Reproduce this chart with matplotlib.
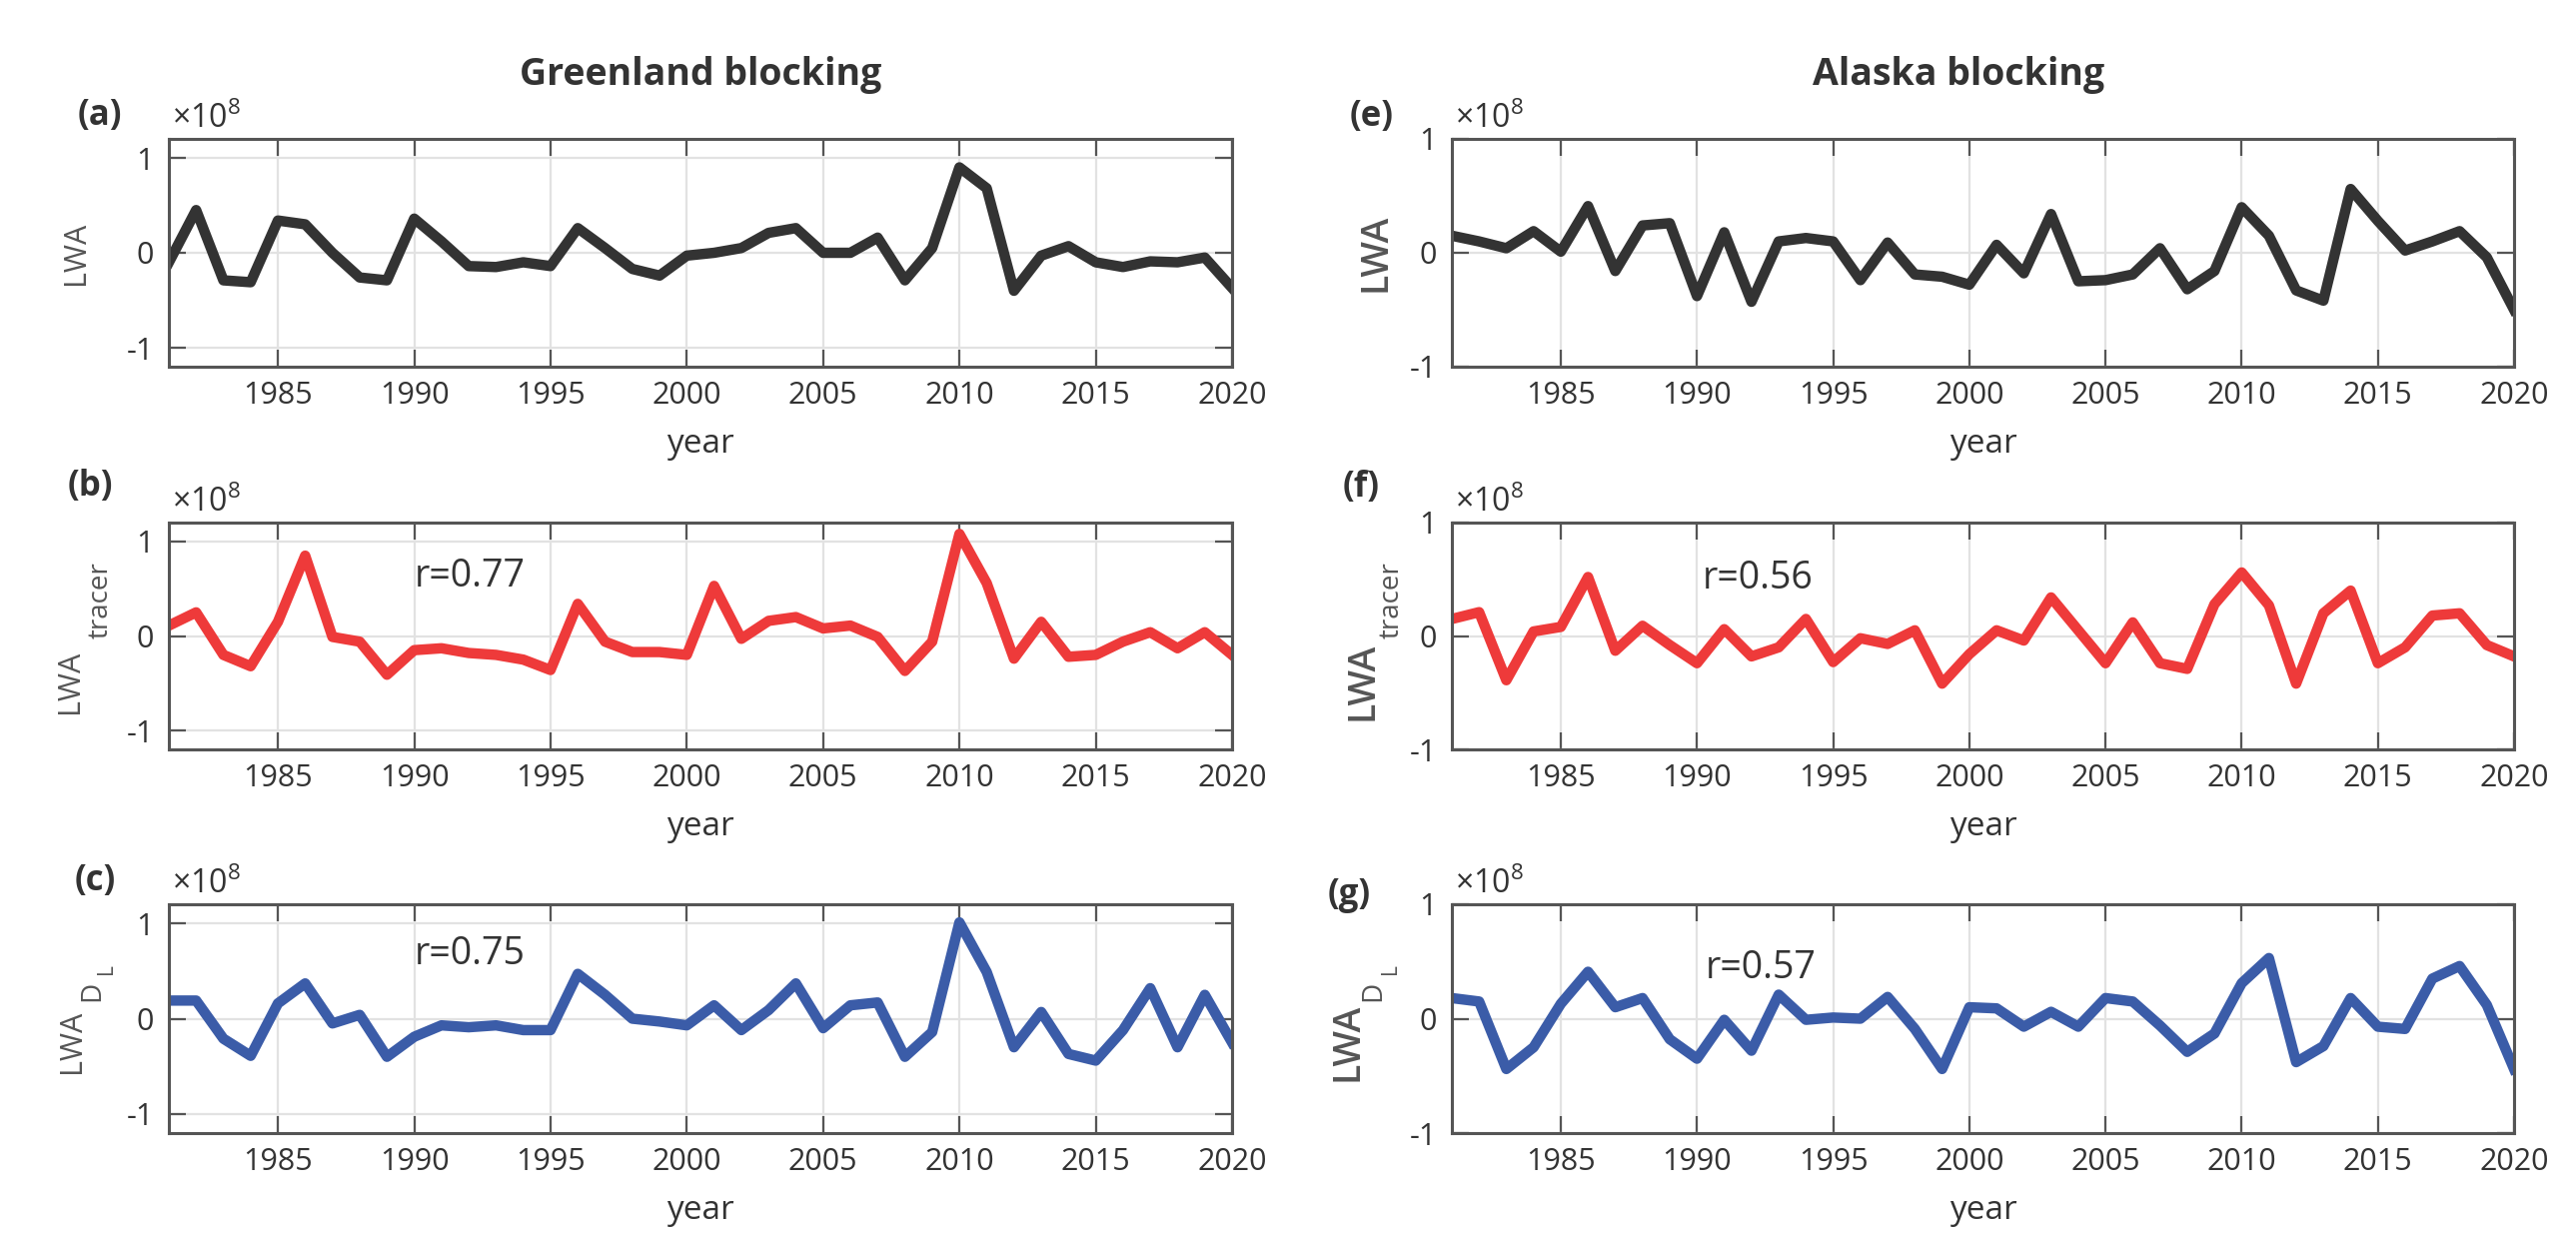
import numpy as np
import matplotlib
matplotlib.use("Agg")
import matplotlib.pyplot as plt
from matplotlib import font_manager


def pick_font(names):
    for n in names:
        try:
            font_manager.findfont(n, fallback_to_default=False)
            return n
        except Exception:
            pass
    return "DejaVu Sans"


FONT = pick_font(["Liberation Sans Narrow", "Open Sans", "Noto Sans"])
plt.rcParams["font.family"] = [FONT, "DejaVu Sans"]
plt.rcParams["mathtext.fontset"] = "custom"
plt.rcParams["mathtext.rm"] = FONT
plt.rcParams["mathtext.it"] = FONT + ":italic"
plt.rcParams["mathtext.bf"] = FONT + ":bold"
plt.rcParams["axes.unicode_minus"] = False

# data (units of 1e8)
years = np.arange(1981, 2021)

greenland_lwa = [-0.10, 0.45, -0.29, -0.31, 0.34, 0.30, 0.00, -0.26, -0.29, 0.36,
                 0.12, -0.14, -0.15, -0.10, -0.14, 0.26, 0.05, -0.17, -0.24, -0.03,
                 0.00, 0.05, 0.21, 0.26, 0.00, 0.00, 0.16, -0.29, 0.05, 0.90,
                 0.68, -0.40, -0.03, 0.07, -0.10, -0.15, -0.09, -0.10, -0.05, -0.37]
greenland_tracer = [0.11, 0.25, -0.20, -0.32, 0.15, 0.85, -0.01, -0.06, -0.41, -0.15,
                    -0.13, -0.18, -0.20, -0.25, -0.36, 0.34, -0.06, -0.17, -0.17, -0.20,
                    0.53, -0.03, 0.16, 0.20, 0.08, 0.11, -0.01, -0.37, -0.06, 1.08,
                    0.56, -0.24, 0.15, -0.22, -0.20, -0.06, 0.04, -0.13, 0.04, -0.20]
greenland_dl = [0.19, 0.19, -0.21, -0.39, 0.16, 0.37, -0.05, 0.04, -0.40, -0.19,
                -0.07, -0.09, -0.07, -0.12, -0.12, 0.47, 0.25, 0.00, -0.03, -0.07,
                0.14, -0.12, 0.09, 0.37, -0.10, 0.14, 0.17, -0.40, -0.14, 1.01,
                0.49, -0.30, 0.07, -0.37, -0.44, -0.12, 0.32, -0.30, 0.25, -0.25]

alaska_lwa = [0.15, 0.10, 0.04, 0.19, 0.01, 0.41, -0.16, 0.24, 0.26, -0.38,
              0.18, -0.43, 0.10, 0.13, 0.10, -0.24, 0.09, -0.19, -0.21, -0.28,
              0.07, -0.18, 0.34, -0.25, -0.24, -0.19, 0.04, -0.32, -0.16, 0.40,
              0.15, -0.33, -0.42, 0.56, 0.28, 0.02, 0.10, 0.19, -0.04, -0.50]
alaska_tracer = [0.15, 0.21, -0.39, 0.04, 0.08, 0.52, -0.13, 0.09, -0.08, -0.24,
                 0.06, -0.18, -0.10, 0.15, -0.23, -0.02, -0.07, 0.05, -0.42, -0.16,
                 0.05, -0.04, 0.34, 0.05, -0.24, 0.12, -0.24, -0.29, 0.28, 0.56,
                 0.27, -0.42, 0.20, 0.40, -0.24, -0.10, 0.18, 0.20, -0.08, -0.18]
alaska_dl = [0.18, 0.15, -0.44, -0.25, 0.13, 0.41, 0.10, 0.18, -0.18, -0.35,
             -0.01, -0.28, 0.21, -0.01, 0.01, 0.00, 0.19, -0.09, -0.44, 0.10,
             0.09, -0.07, 0.06, -0.07, 0.18, 0.15, -0.06, -0.29, -0.13, 0.31,
             0.53, -0.38, -0.24, 0.18, -0.07, -0.09, 0.35, 0.46, 0.12, -0.44]

panel_letters = ["(a)", "(b)", "(c)", "(e)", "(f)", "(g)"]
r_values = [None, "r=0.77", "r=0.75", None, "r=0.56", "r=0.57"]
titles = ["Greenland blocking", "Alaska blocking"]
# y label pieces per row: main text, subscript, sub-subscript
label_main = "LWA"
label_sub = [None, "tracer", "D"]
label_subsub = [None, None, "L"]

series = [greenland_lwa, greenland_tracer, greenland_dl,
          alaska_lwa, alaska_tracer, alaska_dl]
colors = ["#333333", "#EE3A3A", "#3B5CA8"] * 2

# layout in pixels of the 2578x1234 picture
W, H = 2578, 1234
cols = [(169, 1233), (1453, 2516)]
rows = [(139, 367), (523, 750), (905, 1134)]
ylims = [(-1.2, 1.2), (-1.0, 1.0)]
letter_pos = [(100, 116), (90, 487), (95, 882), (1373, 117), (1362, 488), (1350, 896)]
r_pos = [None, (1990.0, 0.63), (1990.0, 0.68), None, (1990.2, 0.51), (1990.3, 0.44)]
title_x = [701, 1960]
# (x right edge in px from axes left, y center as axes fraction) for each piece
main_pos = [(-78, 0.50), (-84, 0.30), (-82, 0.40), (-58, 0.50), (-71, 0.30), (-86, 0.40)]
sub_pos = [None, (-54, 0.66), (-63, 0.62), None, (-46, 0.66), (-65, 0.62)]
subsub_pos = [None, None, (-52, 0.72), None, None, (-51, 0.72)]
main_size = [22, 27]
main_weight = ["normal", "semibold"]

fig = plt.figure(figsize=(W / 100, H / 100), dpi=100)

for i in range(6):
    c, r = divmod(i, 3)
    x0, x1 = cols[c]
    y0, y1 = rows[r]
    ax = fig.add_axes([x0 / W, 1 - y1 / H, (x1 - x0) / W, (y1 - y0) / H])
    ax.plot(years, series[i], color=colors[i], lw=7.5, solid_joinstyle="round")
    ax.set_xlim(1981, 2020)
    ax.set_ylim(*ylims[c])
    ax.set_xticks(range(1985, 2021, 5))
    ax.set_yticks([-1, 0, 1])
    ax.set_yticklabels(["-1", "0", "1"])
    ax.grid(True, color="#e2e2e2", lw=1.6)
    ax.set_axisbelow(True)
    ax.tick_params(direction="in", length=12, width=1.6, top=True, right=True,
                   labelsize=22, color="#555555", labelcolor="#333333")
    ax.tick_params(axis="x", pad=10)
    ax.tick_params(axis="y", pad=11)
    for s in ax.spines.values():
        s.set_color("#555555")
        s.set_linewidth(2.2)
    ax.set_xlabel("year", fontsize=24, color="#333333", labelpad=12)

    # y label drawn in pieces so the subscript keeps its large size
    aw = x1 - x0
    mx, my = main_pos[i]
    ax.text(mx / aw, my, label_main, transform=ax.transAxes, rotation=90,
            ha="right", va="center", fontsize=main_size[c],
            fontweight=main_weight[c], color="#555555")
    if label_sub[r]:
        sx, sy = sub_pos[i]
        ax.text(sx / aw, sy, label_sub[r], transform=ax.transAxes, rotation=90,
                ha="right", va="center", fontsize=20, color="#555555")
    if label_subsub[r]:
        ssx, ssy = subsub_pos[i]
        ax.text(ssx / aw, ssy, label_subsub[r], transform=ax.transAxes, rotation=90,
                ha="right", va="center", fontsize=15, color="#555555")

    ax.text(0.003, 1.012, r"×10$^{8}$", transform=ax.transAxes, ha="left",
            va="bottom", fontsize=23, color="#333333")
    if r_values[i]:
        ax.text(r_pos[i][0], r_pos[i][1], r_values[i], fontsize=27,
                color="#333333", ha="left", va="center")
    lx, ly = letter_pos[i]
    fig.text(lx / W, 1 - ly / H, panel_letters[i], fontsize=25, fontweight="bold",
             color="#333333", ha="center", va="center")

for t, tx in zip(titles, title_x):
    fig.text(tx / W, 1 - 75 / H, t, fontsize=27, fontweight="bold",
             color="#333333", ha="center", va="center")

fig.savefig("out.png", dpi=100)
